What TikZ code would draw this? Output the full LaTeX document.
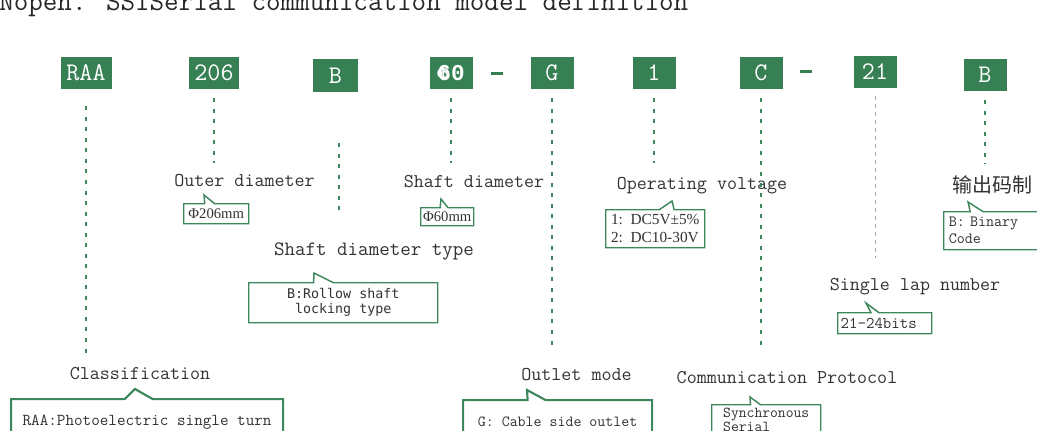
\documentclass[tikz,border=0pt]{standalone}
\usepackage{fontspec}
\setmainfont{Liberation Serif}
\newfontfamily\cjkfont{Noto Sans CJK SC}
\newfontfamily\sansmono{DejaVu Sans Mono}
\newfontfamily\lmono{Liberation Mono}
\usetikzlibrary{shapes.callouts}
\definecolor{boxgreen}{RGB}{54,128,84}
\definecolor{linegreen}{RGB}{60,136,92}
\definecolor{labelgray}{RGB}{50,50,50}

\begin{document}
\begin{tikzpicture}[x=0.75pt, y=-0.75pt,
	code/.style = {fill=boxgreen, text=white, font=\ttfamily\fontsize{19}{19}\selectfont, minimum width=32.25pt, minimum height=24pt, inner sep=0pt},
	bar/.style = {fill=boxgreen, minimum width=9pt, minimum height=2.25pt, inner sep=0pt},
	tag/.style = {anchor=base, text=labelgray, font=\ttfamily\fontsize{14.6}{16}\selectfont, inner sep=0pt},
	note/.style = {rectangle callout, draw=linegreen, line width=1.1pt, fill=white, anchor=north west, inner sep=0pt, text=labelgray},
	guide/.style = {draw=linegreen, line width=1pt, dash pattern=on 3pt off 4.9pt}]

	\useasboundingbox (0,0) rectangle (1037,431);
	\clip (0,0) rectangle (1037,431);

	% title, cut off by the top edge
	\node[anchor=base west, inner sep=0pt, text=black!85, font=\ttfamily\fontsize{21.2}{22}\selectfont] (title) at (-1,11) {Nopen. SSISerial communication model definition};

	% model code
	\node[code, minimum width=38.25pt] (raa) at (86,73) {RAA};
	\node[code, minimum width=37.5pt] (od) at (214,73) {206};
	\node[code, minimum width=33.75pt, minimum height=24.75pt] (st) at (335.5,75.5) {B};
	\node[code, font=\lmono\fontsize{17}{17}\selectfont] (sd) at (451,73) {\rlap{\fontsize{15}{15}\selectfont Φ}\textbf{60}};
	\node[bar] (dash1) at (497,73.5) {};
	\node[code] (om) at (552,73) {G};
	\node[code] (volt) at (654,73) {1};
	\node[code] (proto) at (761,73) {C};
	\node[bar] (dash2) at (806,71.5) {};
	\node[code] (lap) at (875,72) {21};
	\node[code] (bin) at (985,75) {B};

	% captions
	\node[tag] (lod) at (244.5,186) {Outer diameter};
	\node[tag] (lsd) at (474,187) {Shaft diameter};
	\node[tag, font=\ttfamily\fontsize{15.3}{16}\selectfont] (lst) at (374,255) {Shaft diameter type};
	\node[tag] (lvolt) at (702,189) {Operating voltage};
	\node[tag, anchor=center, font=\cjkfont\fontsize{15}{15}\selectfont] (lbin) at (992,185) {输出码制};
	\node[tag] (llap) at (915,290) {Single lap number};
	\node[tag] (lraa) at (140,379) {Classification};
	\node[tag] (lom) at (576.5,380) {Outlet mode};
	\node[tag] (lproto) at (787,383) {Communication Protocol};

	% value notes
	\node[note, minimum width=48.75pt, minimum height=15pt, callout absolute pointer={(204,195)}, callout pointer width=7.5pt, font=\fontsize{11}{12}\selectfont] (nod) at (183,203) {Φ206mm};
	\node[note, minimum width=39.75pt, minimum height=13.5pt, callout absolute pointer={(441,199)}, callout pointer width=6pt, font=\fontsize{11}{12}\selectfont] (nsd) at (420,207) {Φ60mm};
	\node[note, minimum width=141.75pt, minimum height=30pt, callout absolute pointer={(314,273)}, callout pointer width=15pt, align=center, font=\sansmono\fontsize{10}{11.25}\selectfont] (nst) at (248,282) {B:Rollow shaft\\locking type};
	\node[note, minimum width=74.25pt, minimum height=28.5pt, callout absolute pointer={(672,201)}, callout pointer width=11.25pt, align=left, font=\fontsize{11.5}{13.5}\selectfont] (nvolt) at (605,209) {1:\ \ DC5V±5\%\\2:\ \ DC10-30V};
	\node[note, minimum height=28.5pt, callout absolute pointer={(968,202)}, callout pointer width=9.75pt, text width=75pt, align=left, font=\ttfamily\fontsize{11.7}{12.75}\selectfont] (nbin) at (943,211) {\hspace*{3.75pt}B: Binary\\\hspace*{3.75pt}Code};
	\node[note, minimum height=15.75pt, callout absolute pointer={(866,303)}, callout pointer width=6pt, text width=70.5pt, align=left, font=\ttfamily\fontsize{12.3}{13}\selectfont] (nlap) at (837,312) {\hspace*{2.25pt}21-24bits};
	\node[note, line width=1.6pt, minimum width=204pt, minimum height=34.5pt, callout absolute pointer={(135,389)}, callout pointer width=21pt, font=\ttfamily\fontsize{12.5}{13}\selectfont] (nraa) at (10,398) {RAA:Photoelectric single turn};
	\node[note, line width=1.6pt, minimum width=141.75pt, minimum height=33pt, callout absolute pointer={(527,390)}, callout pointer width=13.5pt, font=\ttfamily\fontsize{11.6}{12}\selectfont] (nom) at (462,399) {G: Cable side outlet};
	\node[note, minimum width=81.75pt, minimum height=22.5pt, callout absolute pointer={(750,397)}, callout pointer width=7.5pt, align=left, font=\ttfamily\fontsize{11.4}{10.5}\selectfont] (nproto) at (711,404) {Synchronous\hspace{3pt}\\Serial};

	% ends of the guide lines
	\coordinate (raa end) at (86,358);
	\coordinate (od end) at (214,163);
	\coordinate (st top) at (339,143);
	\coordinate (st end) at (339,212);
	\coordinate (sd end) at (451,163);
	\coordinate (om end) at (552,348);
	\coordinate (volt end) at (654,163);
	\coordinate (proto end) at (761,348);
	\coordinate (lap end) at (875,258);
	\coordinate (bin end) at (985,164);

	\path[guide]
	(raa) edge[shorten <=12.75pt] (raa end)
	(od) edge[shorten <=6.75pt] (od end)
	(st top) edge (st end)
	(sd) edge[shorten <=6.75pt] (sd end)
	(om) edge[shorten <=6.75pt] (om end)
	(volt) edge[shorten <=6.75pt] (volt end)
	(proto) edge[shorten <=6.75pt] (proto end)
	(bin) edge[shorten <=6.75pt] (bin end);

	\path[guide, draw=gray!70, line width=0.6pt, dash pattern=on 3pt off 3pt]
	(lap) edge[shorten <=6pt] (lap end);

\end{tikzpicture}
\end{document}
